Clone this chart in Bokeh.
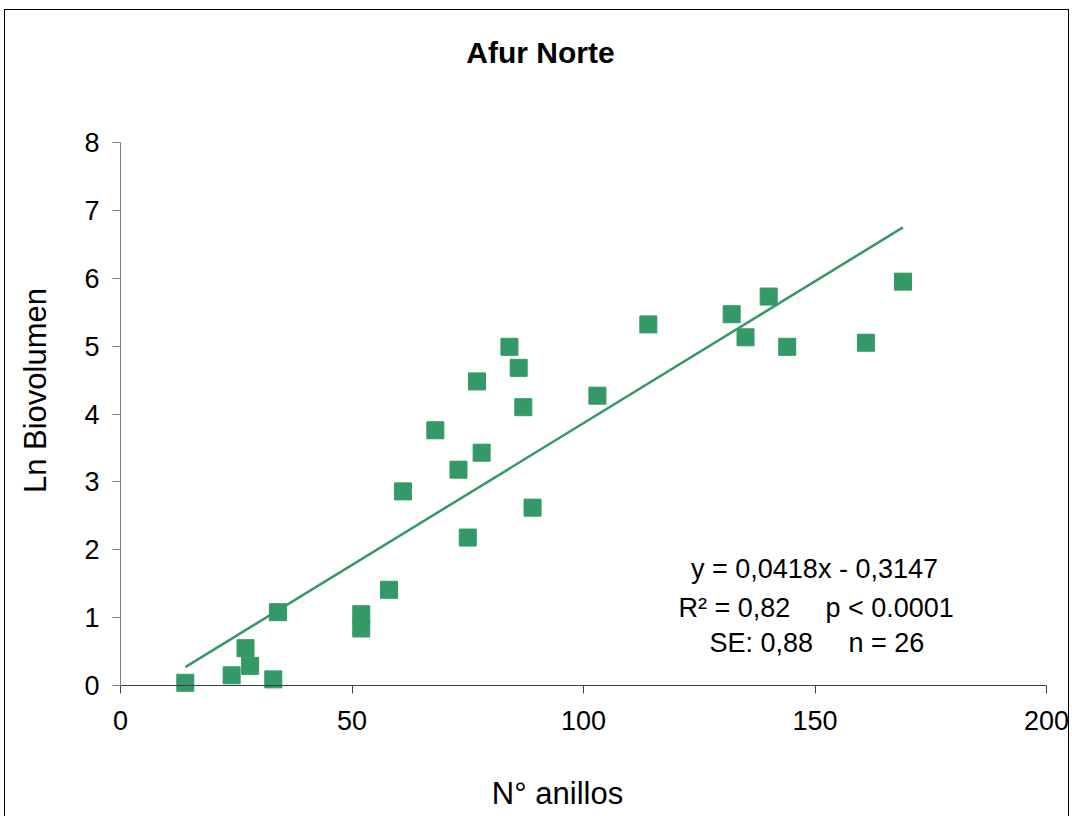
import math
from bokeh.plotting import figure
from bokeh.models import Range1d, FixedTicker, Label
from bokeh.embed import file_html
from bokeh.resources import INLINE

# ---- data ----
n_anillos = [14, 24, 27, 28, 33, 34, 52, 52, 58, 61, 68, 73, 75, 77, 78,
             84, 86, 87, 89, 103, 114, 132, 135, 140, 144, 161, 169]
ln_biovolumen = [0.04, 0.15, 0.55, 0.29, 0.09, 1.08, 1.05, 0.84, 1.41, 2.86, 3.76, 3.18, 2.18, 4.48, 3.43,
                 4.99, 4.68, 4.10, 2.62, 4.27, 5.32, 5.47, 5.13, 5.73, 4.99, 5.05, 5.95]
slope = 0.0418
intercept = -0.3147
x_ticks = [0, 50, 100, 150, 200]
y_ticks = [0, 1, 2, 3, 4, 5, 6, 7, 8]
x_lim = (0, 200)
y_lim = (0, 8)

GREEN = "#339966"
FONT = "Liberation Sans"

W, H = 1072, 816
# plot-area placement on the page (pixels)
PX_L, PX_R, PX_T, PX_B = 120, 1046, 142, 685
sx = (PX_R - PX_L) / (x_lim[1] - x_lim[0])
sy = (PX_B - PX_T) / (y_lim[1] - y_lim[0])


def dx(px):
    return x_lim[0] + (px - PX_L) / sx


def dy(py):
    return y_lim[0] + (PX_B - py) / sy


p = figure(width=W, height=H, output_backend="svg", toolbar_location=None,
           x_range=Range1d(dx(0), dx(W)), y_range=Range1d(dy(H), dy(0)),
           min_border=0, min_border_left=0, min_border_right=0, min_border_top=0, min_border_bottom=0)
p.outline_line_color = None
p.xgrid.visible = False
p.ygrid.visible = False
p.background_fill_color = None
p.border_fill_color = None
# white page with thin black frame around the chart area
p.styles = {
    "background": ("linear-gradient(#000,#000) 4px 9px / 1065px 1px no-repeat, "
                   "linear-gradient(#000,#000) 4px 9px / 1px 807px no-repeat, "
                   "linear-gradient(#000,#000) 1068px 9px / 1px 807px no-repeat, #fff"),
}

# regression line from displayed equation
x0, x1 = min(n_anillos), max(n_anillos)
p.line([x0, x1], [slope * x0 + intercept, slope * x1 + intercept], line_color=GREEN, line_width=2.5)

p.scatter(n_anillos, ln_biovolumen, marker="square", size=17, fill_color=GREEN, line_color=GREEN)

for ax in (p.xaxis[0], p.yaxis[0]):
    ax.major_label_text_font = FONT
    ax.major_label_text_font_size = "27px"
    ax.major_label_text_color = "black"
    ax.minor_tick_line_color = None
    ax.major_tick_in = 0
    ax.major_tick_out = 8
    ax.fixed_location = 0

p.xaxis.bounds = x_lim
p.yaxis.bounds = y_lim
p.xaxis.ticker = FixedTicker(ticks=x_ticks)
p.yaxis.ticker = FixedTicker(ticks=y_ticks)
p.xaxis.axis_line_color = "#404040"
p.xaxis.major_tick_line_color = "#404040"
p.yaxis.axis_line_color = "#808080"
p.yaxis.major_tick_line_color = "#808080"
p.xaxis.major_label_standoff = 17
p.yaxis.major_label_standoff = 13

# title and axis titles
p.add_layout(Label(x=dx(540), y=dy(52), text="Afur Norte", text_align="center", text_baseline="alphabetic",
                   text_font=FONT, text_font_size="30px", text_font_style="bold", text_color="black"))
p.add_layout(Label(x=dx(557), y=dy(793), text="N° anillos", text_align="center", text_baseline="alphabetic",
                   text_font=FONT, text_font_size="31px", text_color="black"))
p.add_layout(Label(x=dx(35), y=dy(390), text="Ln Biovolumen", angle=math.pi / 2,
                   text_align="center", text_baseline="alphabetic",
                   text_font=FONT, text_font_size="31px", text_color="black"))

# regression statistics
ann = dict(text_font=FONT, text_font_size="27px", text_color="black", text_baseline="alphabetic")
p.add_layout(Label(x=dx(814), y=dy(568), text="y = 0,0418x - 0,3147", text_align="center", **ann))
p.add_layout(Label(x=dx(678), y=dy(607), text="R² = 0,82", text_align="left", **ann))
p.add_layout(Label(x=dx(825), y=dy(607), text="p < 0.0001", text_align="left", **ann))
p.add_layout(Label(x=dx(709), y=dy(642), text="SE: 0,88", text_align="left", **ann))
p.add_layout(Label(x=dx(848), y=dy(642), text="n = 26", text_align="left", **ann))

open("out.html", "w").write(file_html(p, INLINE))
